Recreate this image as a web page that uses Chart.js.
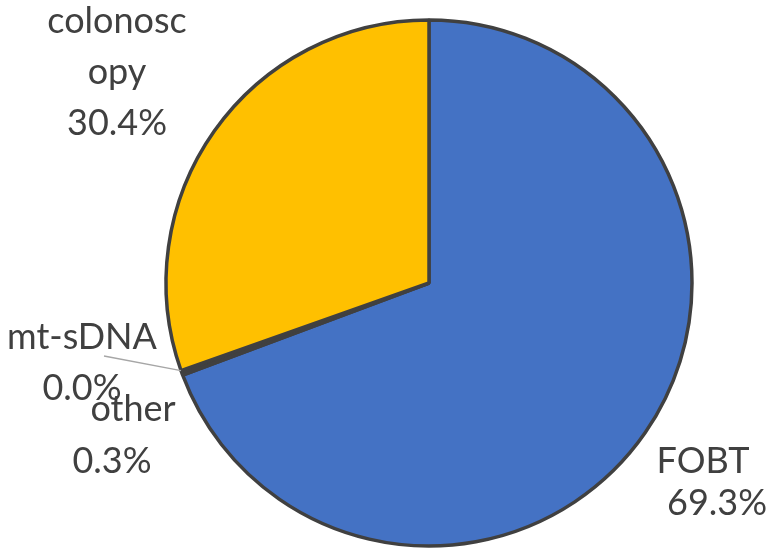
<!DOCTYPE html>
<html>
<head>
<meta charset="utf-8">
<script src="https://cdn.jsdelivr.net/npm/chart.js@4"></script>
<style>
  html, body { margin: 0; padding: 0; background: #fff; }
  #wrap { width: 774px; height: 548px; }
</style>
</head>
<body>
<div id="wrap"><canvas id="myChart" width="774" height="548"></canvas></div>
<script>
// Chart data
var categories = ["FOBT", "other", "mt-sDNA", "colonoscopy"];
var values = [69.3, 0.3, 0.0, 30.4];
var sliceColors = ["#4472C4", "#404040", "#A5A5A5", "#FFC000"];

// Label text and where it sits (pixel spots for the data labels)
var labelLines = [["FOBT", "69.3%"], ["other", "0.3%"], ["mt-sDNA", "0.0%"], ["colonosc", "opy", "30.4%"]];
var labelSpots = [[703, 461, 42], [118, 409, 52], [82, 337, 51], [117, 21, 51]];

// Draws the data labels and the leader line for mt-sDNA
var labelPlugin = {
	id: "labels",
	afterDraw: function(chart) {
		var ctx = chart.ctx;
		var meta = chart.getDatasetMeta(0);
		ctx.save();
		// leader line to the mt-sDNA slice
		var arc = meta.data[2];
		var mid = (arc.startAngle + arc.endAngle) / 2;
		ctx.strokeStyle = "#A6A6A6";
		ctx.lineWidth = 1.3;
		ctx.beginPath();
		ctx.moveTo(104, 356);
		ctx.lineTo(arc.x + Math.cos(mid) * arc.outerRadius, arc.y + Math.sin(mid) * arc.outerRadius);
		ctx.stroke();

		ctx.fillStyle = "#404040";
		ctx.font = "36px Lato";
		ctx.textAlign = "center";
		ctx.textBaseline = "middle";
		for (var i = 0; i < labelLines.length; i++) {
			var s = labelSpots[i];
			for (var j = 0; j < labelLines[i].length; j++) {
				var x = s[0];
				if (i === 0 && j === 1) x = 717;
				if (i === 1 && j === 0) x = 133;
				if (i === 1 && j === 1) x = 112;
				ctx.fillText(labelLines[i][j], x, s[1] + j * s[2]);
			}
		}
		ctx.restore();
	}
};

var pieChart = new Chart("myChart", {
	type: "pie",
	data: {
		labels: categories,
		datasets: [{
			data: values,
			backgroundColor: sliceColors,
			borderColor: "#404040",
			borderWidth: 3.5
		}]
	},
	options: {
		responsive: false,
		animation: false,
		radius: 263,
		layout: { padding: { left: 84, right: 0, top: 18, bottom: 0 } },
		plugins: {
			legend: { display: false },
			tooltip: { enabled: false }
		}
	},
	plugins: [labelPlugin]
});
</script>
</body>
</html>
